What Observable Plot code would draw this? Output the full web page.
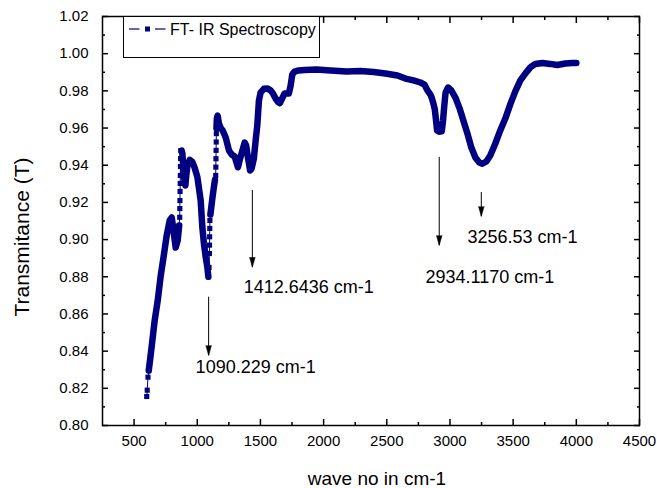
<!DOCTYPE html>
<html><head><meta charset="utf-8">
<script src="https://cdn.jsdelivr.net/npm/d3@7"></script>
<script src="https://cdn.jsdelivr.net/npm/@observablehq/plot@0.6"></script>
<style>
body{margin:0;background:#fff;}
#wrap{position:relative;width:657px;height:488px;font-family:"Liberation Sans",Arial,sans-serif;}
#leg{position:absolute;left:0;top:0;pointer-events:none;}
</style></head><body>
<div id="wrap"></div>
<script>
// ---- data ----
const seriesName = "FT- IR Spectroscopy";
const xTitle = "wave no in cm-1";
const yTitle = "Transmitance (T)";
const xTicks = [500, 1000, 1500, 2000, 2500, 3000, 3500, 4000, 4500];
const xMinor = [750, 1250, 1750, 2250, 2750, 3250, 3750, 4250];
const yTicks = [0.80, 0.82, 0.84, 0.86, 0.88, 0.90, 0.92, 0.94, 0.96, 0.98, 1.00, 1.02];
const yMinor = [0.81, 0.83, 0.85, 0.87, 0.89, 0.91, 0.93, 0.95, 0.97, 0.99, 1.01];

// densely sampled parts of the spectrum (null = gap where samples are sparse)
const waveDense = [616, 624, 640, 663, 687, 711, 735, 758, 782, 798, 814, 829, 845, 857, null,
  876, 882, 889, 896, 906, 913, 922, 940, 960, 978, 1001, 1027, 1040, 1053, 1067, 1080, 1088, null,
  1104, 1112, 1122, 1132, 1140, null,
  1152, 1155, 1161, 1172, 1186, 1201, 1225, 1251, 1272, 1296, 1322, 1339, 1357, 1375, 1387, 1401, 1418,
  1430, 1448, 1462, 1475, 1488, 1501, 1527, 1557, 1581, 1600, 1620, 1640, 1654, 1675, 1691, 1725, 1739,
  1752, 1770, 1802, 1850, 1944, 2055, 2181, 2292, 2395, 2490, 2584, 2648, 2711, 2766, 2798, 2822, 2845,
  2857, 2869, 2880, 2890, 2898, 2915, 2935, 2945, 2955, 2965, 2985, 3011, 3043, 3074, 3106, 3138, 3169,
  3201, 3232, 3256, 3288, 3319, 3359, 3398, 3438, 3477, 3517, 3557, 3596, 3636, 3675, 3731, 3794, 3849,
  3913, 3968, 4000];
const transDense = [0.8296, 0.8339, 0.8430, 0.8565, 0.8672, 0.8807, 0.8914, 0.9022, 0.9103, 0.9119, 0.9038, 0.8957, 0.8995, 0.9076, null,
  0.9479, 0.9465, 0.9400, 0.9330, 0.9291, 0.9345, 0.9398, 0.9429, 0.9418, 0.9389, 0.9336, 0.9210, 0.9067, 0.8977, 0.8905, 0.8851, 0.8800, null,
  0.9135, 0.9180, 0.9235, 0.9285, 0.9320, null,
  0.9600, 0.9650, 0.9667, 0.9623, 0.9600, 0.9587, 0.9549, 0.9479, 0.9458, 0.9447, 0.9389, 0.9436, 0.9479, 0.9522, 0.9506, 0.9442, 0.9372,
  0.9382, 0.9436, 0.9533, 0.9614, 0.9748, 0.9791, 0.9811, 0.9813, 0.9802, 0.9785, 0.9759, 0.9740, 0.9734, 0.9764, 0.9786, 0.9786, 0.9829,
  0.9888, 0.9904, 0.9910, 0.9912, 0.9915, 0.9910, 0.9904, 0.9907, 0.9901, 0.9893, 0.9883, 0.9866, 0.9856, 0.9845, 0.9834, 0.9802, 0.9780,
  0.9760, 0.9732, 0.9700, 0.9640, 0.9587, 0.9580, 0.9582, 0.9640, 0.9720, 0.9790, 0.9818, 0.9802, 0.9764, 0.9710, 0.9641, 0.9571, 0.9495,
  0.9442, 0.9415, 0.9408, 0.9420, 0.9452, 0.9517, 0.9587, 0.9651, 0.9727, 0.9797, 0.9856, 0.9893, 0.9926, 0.9945, 0.9950, 0.9945, 0.9939,
  0.9947, 0.9950, 0.9950];

// sparse samples on the steep jumps (drawn as separate squares)
const waveSteep = [600, 604, 610, 616, null,
  857, 861, 862, 863, 864, 865, 866, 867, 868, 870, 876, null,
  1088, 1093, 1096, 1097, 1098, 1099, 1100, 1104, null,
  1140, 1146, 1147, 1148, 1149, 1150, 1151, 1152];
const transSteep = [0.8156, 0.8190, 0.8260, 0.8296, null,
  0.9076, 0.9120, 0.9167, 0.9210, 0.9259, 0.9302, 0.9345, 0.9393, 0.9436, 0.9479, 0.9479, null,
  0.8800, 0.8850, 0.8925, 0.8970, 0.9015, 0.9060, 0.9103, 0.9135, null,
  0.9320, 0.9345, 0.9390, 0.9435, 0.9480, 0.9525, 0.9570, 0.9600];

// peak annotations
const peakText = ["1090.229 cm-1", "1412.6436 cm-1", "2934.1170 cm-1", "3256.53 cm-1"];
const peakTextX = [987, 1367, 2806, 3138];
const peakTextY = [0.8314, 0.8744, 0.8796, 0.9011];
const arrowX = [1090, 1436, 2915, 3248];
const arrowFrom = [0.8690, 0.9264, 0.9442, 0.9253];
const arrowTo = [0.8376, 0.8851, 0.8968, 0.9124];

// ---- chart ----
const navy = "#000080";
const dense = waveDense.map((w, i) => ({w, t: transDense[i]}));
const steep = waveSteep.map((w, i) => ({w, t: transSteep[i]}));
const arrows = arrowX.map((x, i) => ({x, y1: arrowFrom[i], y2: arrowTo[i]}));
const labels = peakText.map((s, i) => ({s, x: peakTextX[i], y: peakTextY[i]}));
const blank = () => "";
const tk = {tickFormat: blank, label: null, strokeWidth: 1.5, stroke: "#000"};

const chart = Plot.plot({
  width: 657, height: 488,
  marginLeft: 102, marginRight: 18, marginTop: 16, marginBottom: 63,
  style: {fontFamily: "'Liberation Sans', Arial, sans-serif", fontSize: "15px", color: "#000", background: "#fff"},
  x: {domain: [250, 4500]},
  y: {domain: [0.80, 1.02]},
  marks: [
    Plot.axisX({ticks: xTicks, tickSize: 0, tickPadding: 10, tickFormat: d => String(d), fontSize: 15, label: null}),
    // inward-pointing tick marks on all four sides
    Plot.axisX({...tk, ticks: xTicks, tickSize: 6, dy: -6}),
    Plot.axisX({...tk, ticks: xMinor, tickSize: 3, dy: -3}),
    Plot.axisX({...tk, anchor: "top", ticks: xTicks, tickSize: 6, dy: 6}),
    Plot.axisX({...tk, anchor: "top", ticks: xMinor, tickSize: 3, dy: 3}),
    Plot.axisY({ticks: yTicks, tickSize: 0, tickPadding: 14, tickFormat: d => d.toFixed(2), fontSize: 15, label: null}),
    Plot.axisY({...tk, ticks: yTicks, tickSize: 6, dx: 6}),
    Plot.axisY({...tk, ticks: yMinor, tickSize: 3, dx: 3}),
    Plot.axisY({...tk, anchor: "right", ticks: yTicks, tickSize: 6, dx: -6}),
    Plot.axisY({...tk, anchor: "right", ticks: yMinor, tickSize: 3, dx: -3}),
    Plot.frame({stroke: "#000", strokeWidth: 1.5}),
    Plot.line(steep, {x: "w", y: "t", stroke: navy, strokeWidth: 1}),
    Plot.dot(steep, {x: "w", y: "t", symbol: "square", r: 2.9, fill: navy, stroke: "none"}),
    Plot.line(dense, {x: "w", y: "t", stroke: navy, strokeWidth: 6.5, strokeLinejoin: "round", strokeLinecap: "round"}),
    Plot.ruleX(arrows, {x: "x", y1: "y1", y2: "y2", stroke: "#000", strokeWidth: 1}),
    Plot.vector(arrows, {x: "x", y: "y2", length: 10, rotate: 180, anchor: "end", shape: "spike", r: 2.8, fill: "#000", stroke: "#000", strokeWidth: 0.5}),
    Plot.text(labels, {x: "x", y: "y", text: "s", textAnchor: "start", lineAnchor: "middle", fontSize: 18, fill: "#000"}),
    Plot.text([xTitle], {frameAnchor: "bottom", textAnchor: "middle", lineAnchor: "middle", dy: 53, dx: 6, fontSize: 19, fill: "#000"}),
    Plot.text([yTitle], {frameAnchor: "left", textAnchor: "middle", lineAnchor: "middle", rotate: -90, dx: -80, dy: 16, fontSize: 21, fill: "#000"})
  ]
});
const wrap = document.getElementById("wrap");
wrap.appendChild(chart);

// legend overlay (inside the plot frame, top-left)
const leg = d3.select(wrap).append("svg").attr("id", "leg").attr("width", 657).attr("height", 488);
leg.append("rect").attr("x", 123.5).attr("y", 16.5).attr("width", 196).attr("height", 41)
  .attr("fill", "#fff").attr("stroke", "#000").attr("stroke-width", 1);
leg.append("line").attr("x1", 129).attr("x2", 139.5).attr("y1", 29).attr("y2", 29).attr("stroke", navy).attr("stroke-width", 1.2);
leg.append("rect").attr("x", 145).attr("y", 26.5).attr("width", 5).attr("height", 5).attr("fill", navy);
leg.append("line").attr("x1", 155).attr("x2", 165.5).attr("y1", 29).attr("y2", 29).attr("stroke", navy).attr("stroke-width", 1.2);
leg.append("text").attr("x", 170).attr("y", 35).attr("font-size", 16)
  .attr("font-family", "'Liberation Sans', Arial, sans-serif").text(seriesName);
</script>
</body></html>
